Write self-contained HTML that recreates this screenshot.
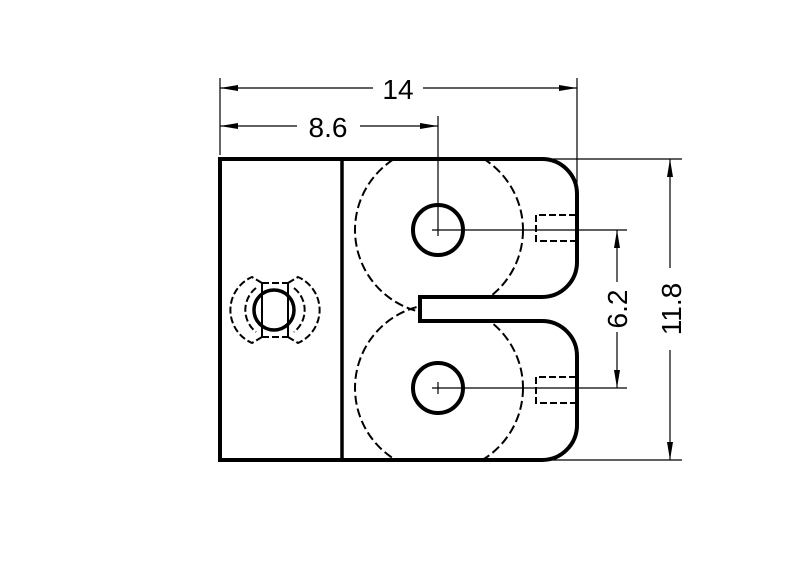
<!DOCTYPE html>
<html><head><style>body{margin:0;background:#fff}svg{display:block}</style></head><body>
<svg width="800" height="576" viewBox="0 0 800 576" xmlns="http://www.w3.org/2000/svg" font-family="Liberation Sans, sans-serif">
<defs><clipPath id="c"><path d="M343 159 H542 A35 35 0 0 1 577 194 V262 A35 35 0 0 1 542 297 H420 V321 H542 A35 35 0 0 1 577 356 V425 A35 35 0 0 1 542 460 H343 Z"/></clipPath></defs>
<g fill="none" stroke="#000">
<g clip-path="url(#c)" stroke-width="2" stroke-dasharray="9,4">
<circle cx="439" cy="230" r="84"/>
<circle cx="439" cy="388" r="84"/>
</g>
<path d="M220 159 H542 A35 35 0 0 1 577 194 V262 A35 35 0 0 1 542 297 H420 V321 H542 A35 35 0 0 1 577 356 V425 A35 35 0 0 1 542 460 H220 Z" stroke-width="4"/>
<line x1="342" y1="159" x2="342" y2="460" stroke-width="3.5"/>
<circle cx="438" cy="230" r="25" stroke-width="4"/>
<circle cx="438" cy="388" r="25" stroke-width="4"/>
<g stroke-width="2" stroke-dasharray="7,3">
<path d="M576 215 H536 V241 H576"/>
<path d="M576 377 H536 V403 H576"/>
<path d="M262 283 H288 M262 337 H288"/>
<path d="M262 283 V337 M288 283 V337" stroke-dasharray="none"/>
<path d="M262 283 L252 277 A36 36 0 0 0 252 343 L262 337"/>
<path d="M288 283 L298 277 A36 36 0 0 1 298 343 L288 337"/>
<path d="M256 288 A28 28 0 0 0 256 332"/>
<path d="M294 288 A28 28 0 0 1 294 332"/>
</g>
<circle cx="274" cy="310" r="20" stroke-width="3.5"/>
<g stroke-width="1.2">
<line x1="438" y1="116" x2="438" y2="236"/>
<line x1="432" y1="230" x2="627" y2="230"/>
<line x1="438" y1="382" x2="438" y2="394"/>
<line x1="432" y1="388" x2="627" y2="388"/>
<line x1="220" y1="78" x2="220" y2="155"/>
<line x1="577" y1="78" x2="577" y2="190"/>
<line x1="542" y1="159" x2="682" y2="159"/>
<line x1="542" y1="460" x2="682" y2="460"/>
<line x1="220" y1="88" x2="373" y2="88"/><line x1="423" y1="88" x2="577" y2="88"/>
<line x1="220" y1="126" x2="297" y2="126"/><line x1="360" y1="126" x2="438" y2="126"/>
<line x1="670" y1="159" x2="670" y2="268"/><line x1="670" y1="350" x2="670" y2="460"/>
<line x1="617" y1="230" x2="617" y2="282"/><line x1="617" y1="332" x2="617" y2="388"/>
</g>
</g>
<g fill="#000">
<path d="M220 88 l18 -3 v6z M577 88 l-18 -3 v6z"/>
<path d="M220 126 l18 -3 v6z M438 126 l-18 -3 v6z"/>
<path d="M670 159 l-3 18 h6z M670 460 l-3 -18 h6z"/>
<path d="M617 230 l-3 18 h6z M617 388 l-3 -18 h6z"/>
</g>
<g font-size="28" fill="#000" text-anchor="middle">
<text x="398" y="99">14</text>
<text x="328" y="137">8.6</text>
<text transform="translate(681 309) rotate(-90)">11.8</text>
<text transform="translate(627 309) rotate(-90)">6.2</text>
</g>
</svg>
</body></html>
